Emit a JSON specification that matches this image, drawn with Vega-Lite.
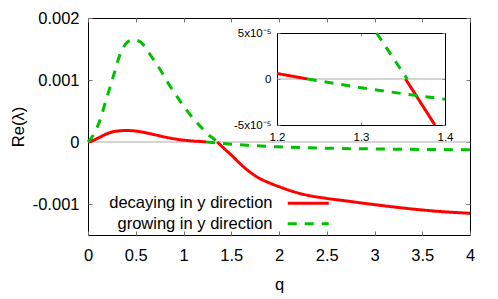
{
  "$schema": "https://vega.github.io/schema/vega-lite/v6.json",
  "width": 382,
  "height": 217,
  "autosize": {"type": "none"},
  "padding": {"left": 88, "top": 18, "right": 28, "bottom": 64},
  "config": {
    "font": "Liberation Sans",
    "view": {"stroke": "#000000", "strokeWidth": 1},
    "axis": {
      "labelFont": "Liberation Sans",
      "titleFont": "Liberation Sans",
      "labelColor": "#000000",
      "titleColor": "#000000",
      "titleFontWeight": "normal",
      "grid": false,
      "tickColor": "#777777",
      "domainColor": "#000000",
      "labelFlush": false,
      "labelOverlap": false
    }
  },
  "datasets": {
    "main": [
      {"series": "decaying in y direction", "branch": "r1", "q": 0, "re": 0},
      {"series": "decaying in y direction", "branch": "r1", "q": 0.06, "re": 0.00003},
      {"series": "decaying in y direction", "branch": "r1", "q": 0.12, "re": 0.000075},
      {"series": "decaying in y direction", "branch": "r1", "q": 0.2, "re": 0.000135},
      {"series": "decaying in y direction", "branch": "r1", "q": 0.27, "re": 0.000168},
      {"series": "decaying in y direction", "branch": "r1", "q": 0.33, "re": 0.00018},
      {"series": "decaying in y direction", "branch": "r1", "q": 0.4, "re": 0.000185},
      {"series": "decaying in y direction", "branch": "r1", "q": 0.48, "re": 0.00018},
      {"series": "decaying in y direction", "branch": "r1", "q": 0.55, "re": 0.000165},
      {"series": "decaying in y direction", "branch": "r1", "q": 0.69, "re": 0.00012},
      {"series": "decaying in y direction", "branch": "r1", "q": 0.82, "re": 0.000075},
      {"series": "decaying in y direction", "branch": "r1", "q": 0.96, "re": 0.000038},
      {"series": "decaying in y direction", "branch": "r1", "q": 1.1, "re": 0.000016},
      {"series": "decaying in y direction", "branch": "r1", "q": 1.2, "re": 0.000006},
      {"series": "decaying in y direction", "branch": "r1", "q": 1.2366, "re": 0},
      {"series": "decaying in y direction", "branch": "r2", "q": 1.353, "re": 0},
      {"series": "decaying in y direction", "branch": "r2", "q": 1.388, "re": -0.00005},
      {"series": "decaying in y direction", "branch": "r2", "q": 1.45, "re": -0.00014},
      {"series": "decaying in y direction", "branch": "r2", "q": 1.5, "re": -0.00021},
      {"series": "decaying in y direction", "branch": "r2", "q": 1.6, "re": -0.00036},
      {"series": "decaying in y direction", "branch": "r2", "q": 1.7, "re": -0.00049},
      {"series": "decaying in y direction", "branch": "r2", "q": 1.8, "re": -0.00059},
      {"series": "decaying in y direction", "branch": "r2", "q": 1.9, "re": -0.00066},
      {"series": "decaying in y direction", "branch": "r2", "q": 2.0, "re": -0.00072},
      {"series": "decaying in y direction", "branch": "r2", "q": 2.15, "re": -0.0008},
      {"series": "decaying in y direction", "branch": "r2", "q": 2.3, "re": -0.00086},
      {"series": "decaying in y direction", "branch": "r2", "q": 2.5, "re": -0.00091},
      {"series": "decaying in y direction", "branch": "r2", "q": 2.65, "re": -0.00094},
      {"series": "decaying in y direction", "branch": "r2", "q": 3.0, "re": -0.00101},
      {"series": "decaying in y direction", "branch": "r2", "q": 3.33, "re": -0.00107},
      {"series": "decaying in y direction", "branch": "r2", "q": 3.68, "re": -0.00112},
      {"series": "decaying in y direction", "branch": "r2", "q": 4.0, "re": -0.00115},
      {"series": "growing in y direction", "branch": "g1", "q": 0, "re": 0},
      {"series": "growing in y direction", "branch": "g1", "q": 0.07, "re": 0.00015},
      {"series": "growing in y direction", "branch": "g1", "q": 0.12, "re": 0.00033},
      {"series": "growing in y direction", "branch": "g1", "q": 0.19, "re": 0.00068},
      {"series": "growing in y direction", "branch": "g1", "q": 0.265, "re": 0.00106},
      {"series": "growing in y direction", "branch": "g1", "q": 0.335, "re": 0.00141},
      {"series": "growing in y direction", "branch": "g1", "q": 0.405, "re": 0.0016},
      {"series": "growing in y direction", "branch": "g1", "q": 0.475, "re": 0.00165},
      {"series": "growing in y direction", "branch": "g1", "q": 0.56, "re": 0.0016},
      {"series": "growing in y direction", "branch": "g1", "q": 0.65, "re": 0.00141},
      {"series": "growing in y direction", "branch": "g1", "q": 0.755, "re": 0.00117},
      {"series": "growing in y direction", "branch": "g1", "q": 0.86, "re": 0.0009},
      {"series": "growing in y direction", "branch": "g1", "q": 0.965, "re": 0.00066},
      {"series": "growing in y direction", "branch": "g1", "q": 1.07, "re": 0.00044},
      {"series": "growing in y direction", "branch": "g1", "q": 1.175, "re": 0.000255},
      {"series": "growing in y direction", "branch": "g1", "q": 1.28, "re": 0.000093},
      {"series": "growing in y direction", "branch": "g1", "q": 1.3185, "re": 0.00005},
      {"series": "growing in y direction", "branch": "g1", "q": 1.355, "re": 0},
      {"series": "growing in y direction", "branch": "g2", "q": 1.2366, "re": 0},
      {"series": "growing in y direction", "branch": "g2", "q": 1.3, "re": -0.0000095},
      {"series": "growing in y direction", "branch": "g2", "q": 1.4, "re": -0.000022},
      {"series": "growing in y direction", "branch": "g2", "q": 1.5, "re": -0.000036},
      {"series": "growing in y direction", "branch": "g2", "q": 1.7, "re": -0.000056},
      {"series": "growing in y direction", "branch": "g2", "q": 2.0, "re": -0.000078},
      {"series": "growing in y direction", "branch": "g2", "q": 2.5, "re": -0.0001},
      {"series": "growing in y direction", "branch": "g2", "q": 3.0, "re": -0.000112},
      {"series": "growing in y direction", "branch": "g2", "q": 3.5, "re": -0.00012},
      {"series": "growing in y direction", "branch": "g2", "q": 4.0, "re": -0.000125}
    ],
    "inset": [
      {"series": "decaying in y direction", "branch": "r1", "q": 1.2, "re": 0.000006},
      {"series": "decaying in y direction", "branch": "r1", "q": 1.2366, "re": 0},
      {"series": "decaying in y direction", "branch": "r2", "q": 1.353, "re": 0},
      {"series": "decaying in y direction", "branch": "r2", "q": 1.388, "re": -0.00005},
      {"series": "growing in y direction", "branch": "g1", "q": 1.3185, "re": 0.00005},
      {"series": "growing in y direction", "branch": "g1", "q": 1.355, "re": 0},
      {"series": "growing in y direction", "branch": "g2", "q": 1.2366, "re": 0},
      {"series": "growing in y direction", "branch": "g2", "q": 1.3, "re": -0.0000095},
      {"series": "growing in y direction", "branch": "g2", "q": 1.35, "re": -0.000016},
      {"series": "growing in y direction", "branch": "g2", "q": 1.4, "re": -0.000022}
    ]
  },
  "layer": [
    {
      "data": {"name": "main"},
      "layer": [
        {
          "data": {"values": [{}]},
          "mark": {"type": "rule", "color": "#aaaaaa", "strokeWidth": 1},
          "encoding": {"y": {"datum": 0, "type": "quantitative", "axis": null}}
        },
        {
          "mark": {"type": "line", "strokeWidth": 3, "interpolate": "monotone"},
          "encoding": {
            "x": {
              "field": "q", "type": "quantitative",
              "scale": {"domain": [0, 4], "nice": false, "zero": false},
              "axis": {
                "orient": "bottom", "values": [0, 0.5, 1, 1.5, 2, 2.5, 3, 3.5, 4],
                "format": "~g", "tickSize": -4, "labelPadding": 16, "labelFontSize": 16.5,
                "domain": false, "title": "q", "titleFontSize": 16.5, "titlePadding": 13
              }
            },
            "y": {
              "field": "re", "type": "quantitative",
              "scale": {"domain": [-0.0015, 0.002], "nice": false, "zero": false},
              "axis": {
                "orient": "left", "values": [-0.001, 0, 0.001, 0.002],
                "labelExpr": "datum.value == 0 ? '0' : replace(format(datum.value, '.3f'), '\u2212', '-')",
                "tickSize": -4, "labelPadding": 13, "labelFontSize": 16.5,
                "domain": false, "title": "Re(λ)", "titleFontSize": 16.5, "titlePadding": 6
              }
            },
            "color": {
              "field": "series", "type": "nominal",
              "scale": {"domain": ["decaying in y direction", "growing in y direction"], "range": ["#ff0000", "#00c000"]},
              "legend": {
                "title": null, "orient": "none", "legendX": 212, "legendY": 177,
                "symbolType": "M-4,0L4,0", "symbolSize": 105, "symbolStrokeWidth": 3,
                "labelFontSize": 16.5, "labelFont": "Liberation Sans", "labelColor": "#000000",
                "labelAlign": "right", "labelOffset": -44, "labelLimit": 0,
                "rowPadding": 3.5, "padding": 0
              }
            },
            "strokeDash": {
              "field": "series", "type": "nominal",
              "scale": {"domain": ["decaying in y direction", "growing in y direction"], "range": [[1, 0], [9, 8]]}
            },
            "detail": {"field": "branch", "type": "nominal"}
          }
        },
        {
          "mark": {"type": "point", "opacity": 0},
          "encoding": {
            "x": {
              "field": "q", "type": "quantitative",
              "axis": {"orient": "top", "values": [0, 0.5, 1, 1.5, 2, 2.5, 3, 3.5, 4], "labels": false, "tickSize": -4, "domain": false, "title": null}
            },
            "y": {
              "field": "re", "type": "quantitative",
              "axis": {"orient": "right", "values": [-0.001, 0, 0.001, 0.002], "labels": false, "tickSize": -4, "domain": false, "title": null}
            }
          }
        }
      ],
      "resolve": {"axis": {"x": "independent", "y": "independent"}}
    },
    {
      "data": {"name": "inset"},
      "layer": [
        {
          "data": {"values": [{}]},
          "mark": {"type": "rule", "color": "#aaaaaa", "strokeWidth": 1},
          "encoding": {
            "x": {"datum": 1.2, "type": "quantitative", "axis": null},
            "x2": {"datum": 1.4},
            "y": {"datum": 0, "type": "quantitative", "axis": null}
          }
        },
        {
          "mark": {"type": "line", "strokeWidth": 3},
          "encoding": {
            "x": {
              "field": "q", "type": "quantitative",
              "scale": {"domain": [1.2, 1.4], "range": [189, 357], "nice": false, "zero": false},
              "axis": {
                "orient": "bottom", "offset": -110, "values": [1.2, 1.3, 1.4], "format": ".1f",
                "tickSize": -3, "labelPadding": 9, "labelFontSize": 11.5, "title": null
              }
            },
            "y": {
              "field": "re", "type": "quantitative",
              "scale": {"domain": [-0.00005, 0.00005], "range": [107, 15], "nice": false, "zero": false},
              "axis": {
                "orient": "left", "offset": -189, "values": [-0.00005, 0, 0.00005],
                "labelExpr": "datum.value > 0 ? '5x10⁻⁵' : (datum.value < 0 ? '-5x10⁻⁵' : '0')",
                "tickSize": -3, "labelPadding": 9, "labelFontSize": 11.5, "title": null
              }
            },
            "color": {"field": "series", "type": "nominal"},
            "strokeDash": {"field": "series", "type": "nominal"},
            "detail": {"field": "branch", "type": "nominal"}
          }
        },
        {
          "mark": {"type": "point", "opacity": 0},
          "encoding": {
            "x": {
              "field": "q", "type": "quantitative",
              "axis": {"orient": "top", "offset": -15, "values": [1.2, 1.3, 1.4], "labels": false, "tickSize": -3, "title": null}
            },
            "y": {
              "field": "re", "type": "quantitative",
              "axis": {"orient": "right", "offset": -25, "values": [-0.00005, 0, 0.00005], "labels": false, "tickSize": -3, "title": null}
            }
          }
        }
      ],
      "resolve": {"axis": {"x": "independent", "y": "independent"}}
    }
  ],
  "resolve": {"scale": {"x": "independent", "y": "independent"}}
}
